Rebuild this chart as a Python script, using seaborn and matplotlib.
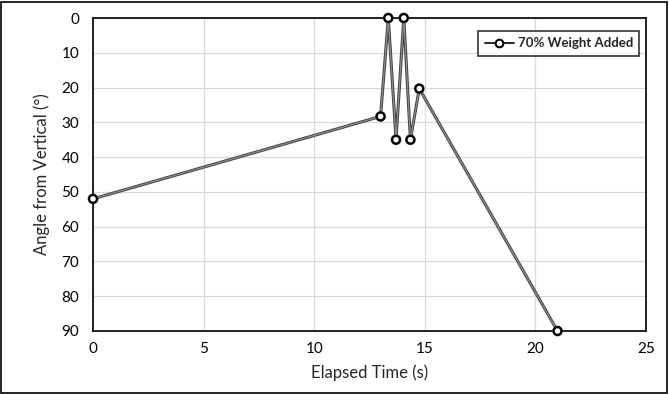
import matplotlib
matplotlib.use("Agg")
import matplotlib.pyplot as plt
import matplotlib.patheffects as pe
import seaborn as sns
import pandas as pd

# values
elapsed_time = [0, 13.0, 13.35, 13.7, 14.05, 14.35, 14.75, 21.0]
angle_deg = [52, 28.3, 0, 35, 0, 35, 20.3, 90]
series_name = "70% Weight Added"

x_ticks = [0, 5, 10, 15, 20, 25]
y_ticks = [0, 10, 20, 30, 40, 50, 60, 70, 80, 90]

df = pd.DataFrame({"time": elapsed_time, "angle": angle_deg, "series": series_name})

sns.set_style("white")
plt.rcParams["font.family"] = ["Lato", "DejaVu Sans"]

fig = plt.figure(figsize=(6.69, 3.94), dpi=100)
ax = fig.add_axes([93 / 669, 1 - 331 / 394, 553 / 669, 313 / 394])

sns.lineplot(data=df, x="time", y="angle", hue="series", palette=["#8c8c8c"],
             sort=False, marker="o", markersize=5.5, markerfacecolor="white",
             markeredgecolor="black", markeredgewidth=1.5, linewidth=0.9,
             ax=ax, zorder=3, clip_on=False,
             path_effects=[pe.Stroke(linewidth=2.2, foreground="#404040"), pe.Normal()])

ax.set_xlim(0, 25)
ax.set_ylim(90, 0)
ax.set_xticks(x_ticks)
ax.set_yticks(y_ticks)
ax.grid(True, color="#d9d9d9", linewidth=0.9)
ax.set_axisbelow(True)
for s in ax.spines.values():
    s.set_color("black")
    s.set_linewidth(1.2)
ax.tick_params(axis="both", labelsize=11, colors="black", length=0, pad=8)
ax.tick_params(axis="y", length=5, width=1, direction="out", pad=5)
ax.set_xlabel("Elapsed Time (s)", fontsize=12, labelpad=6)
ax.set_ylabel("Angle from Vertical (°)", fontsize=12, labelpad=8)

leg = ax.legend(loc="upper right", bbox_to_anchor=(1.0, 0.98), frameon=True,
                fancybox=False, edgecolor="black", handlelength=2.2,
                handletextpad=0.3, borderpad=0.5,
                prop={"family": ["Lato", "DejaVu Sans"], "weight": "bold", "size": 9.5})
leg.get_frame().set_linewidth(1.2)
for h in leg.legend_handles:
    h.set_color("black")
    h.set_linewidth(1.2)
    h.set_path_effects([])
    h.set_markeredgecolor("black")
    h.set_markerfacecolor("white")

# outer chart border
fig.patches.append(plt.Rectangle((0.002, 0.003), 0.995, 0.993, transform=fig.transFigure,
                                 fill=False, edgecolor="black", linewidth=1.2))

fig.savefig("out.png", dpi=100)
